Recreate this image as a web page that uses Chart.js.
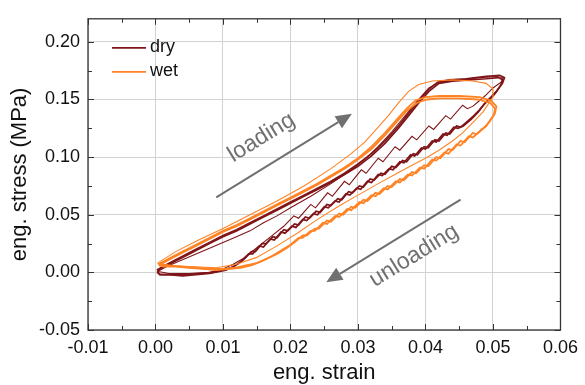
<!DOCTYPE html>
<html>
<head>
<meta charset="utf-8">
<script src="https://cdn.jsdelivr.net/npm/chart.js@4.4.0/dist/chart.umd.min.js"></script>
<style>
  html, body { margin: 0; padding: 0; background: #fff; }
  #wrap { width: 585px; height: 385px; }
</style>
</head>
<body>
<div id="wrap"><canvas id="loopChart" width="585" height="385"></canvas></div>
<script>
// tick labels
const strainTicks = [-0.01, 0.0, 0.01, 0.02, 0.03, 0.04, 0.05, 0.06];
const stressTicks = [-0.05, 0.0, 0.05, 0.1, 0.15, 0.2];

// dry cycles [strain, stress]
const dryLoop1 = [
  [0.0002,0.001],[0.002,0.006],[0.004,0.011],[0.006,0.016],[0.008,0.021],[0.010,0.026],
  [0.012,0.031],[0.014,0.036],[0.016,0.043],[0.018,0.049],[0.020,0.056],[0.023,0.066],
  [0.026,0.077],[0.029,0.089],[0.031,0.098],[0.033,0.109],[0.035,0.122],[0.037,0.136],
  [0.039,0.150],[0.0405,0.160],[0.042,0.165],[0.045,0.167],[0.048,0.169],[0.0505,0.170],
  [0.0515,0.169],[0.0512,0.165],[0.0500,0.160],[0.0488,0.153],[0.0478,0.148],[0.0470,0.144],
  [0.0462,0.142],[0.0455,0.145],[0.0437,0.133],[0.0430,0.136],[0.0412,0.124],[0.0405,0.127],
  [0.0387,0.115],[0.0380,0.118],[0.0362,0.106],[0.0355,0.109],[0.0337,0.096],[0.0330,0.099],
  [0.0312,0.086],[0.0305,0.089],[0.0287,0.076],[0.0280,0.079],[0.0262,0.066],[0.0255,0.069],
  [0.0237,0.056],[0.0230,0.059],[0.0212,0.047],[0.0205,0.049],[0.0190,0.040],[0.0175,0.033],
  [0.0160,0.026],[0.0145,0.019],[0.0130,0.012],[0.0115,0.007],[0.0100,0.003],[0.0080,0.000],
  [0.0050,-0.001],[0.0020,-0.001],[0.0002,0.001]
];
const dryLoop2 = [
  [0.0002,0.002],[0.002,0.008],[0.004,0.014],[0.006,0.020],[0.008,0.026],[0.010,0.032],
  [0.012,0.037],[0.014,0.043],[0.016,0.049],[0.018,0.055],[0.020,0.061],[0.022,0.067],
  [0.024,0.073],[0.026,0.079],[0.028,0.086],[0.030,0.094],[0.032,0.103],[0.034,0.114],
  [0.036,0.127],[0.0375,0.138],[0.039,0.149],[0.0405,0.159],[0.0418,0.165],[0.0435,0.167],
  [0.046,0.168],[0.049,0.170],[0.0510,0.171],[0.0517,0.169],[0.0514,0.164],[0.0505,0.157],
  [0.0497,0.152],[0.0490,0.148],[0.0480,0.141],[0.0470,0.135],[0.0460,0.130],[0.0452,0.126],
  [0.0446,0.127],[0.0436,0.120],[0.0430,0.121],[0.0420,0.114],[0.0414,0.115],[0.0404,0.108],
  [0.0398,0.109],[0.0388,0.102],[0.0382,0.103],[0.0372,0.096],[0.0366,0.097],[0.0356,0.091],
  [0.0350,0.092],[0.0340,0.085],[0.0334,0.086],[0.0324,0.080],[0.0318,0.081],[0.0308,0.074],
  [0.0302,0.075],[0.0292,0.069],[0.0286,0.070],[0.0276,0.063],[0.0270,0.064],[0.0260,0.058],
  [0.0254,0.059],[0.0244,0.052],[0.0238,0.053],[0.0228,0.047],[0.0222,0.048],[0.0212,0.041],
  [0.0206,0.042],[0.0196,0.036],[0.0190,0.037],[0.0180,0.030],[0.0174,0.031],[0.0164,0.025],
  [0.0158,0.025],[0.0148,0.018],[0.0142,0.018],[0.0132,0.012],[0.0124,0.008],[0.0112,0.004],
  [0.0100,0.002],[0.0085,0.000],[0.0065,-0.001],[0.0045,-0.002],[0.0025,-0.002],[0.0008,-0.002],
  [0.0002,0.000]
];
const dryLoop3 = [
  [0.0003,0.001],[0.002,0.007],[0.004,0.013],[0.006,0.019],[0.008,0.025],[0.010,0.031],
  [0.012,0.036],[0.014,0.042],[0.016,0.048],[0.018,0.054],[0.020,0.060],[0.022,0.066],
  [0.024,0.072],[0.026,0.078],[0.028,0.085],[0.030,0.092],[0.032,0.101],[0.034,0.112],
  [0.036,0.125],[0.0375,0.136],[0.039,0.147],[0.0405,0.157],[0.0420,0.164],[0.0440,0.166],
  [0.0465,0.167],[0.0490,0.168],[0.0508,0.169],[0.0515,0.167],[0.0511,0.162],[0.0503,0.155],
  [0.0495,0.150],[0.0487,0.146],[0.0478,0.139],[0.0468,0.133],[0.0456,0.127],[0.0448,0.125],
  [0.0442,0.126],[0.0432,0.119],[0.0426,0.120],[0.0416,0.113],[0.0410,0.114],[0.0400,0.107],
  [0.0394,0.108],[0.0384,0.101],[0.0378,0.102],[0.0368,0.095],[0.0362,0.096],[0.0352,0.089],
  [0.0346,0.090],[0.0336,0.084],[0.0330,0.085],[0.0320,0.078],[0.0314,0.079],[0.0304,0.072],
  [0.0298,0.073],[0.0288,0.067],[0.0282,0.068],[0.0272,0.061],[0.0266,0.062],[0.0256,0.056],
  [0.0250,0.057],[0.0240,0.050],[0.0234,0.051],[0.0224,0.045],[0.0218,0.046],[0.0208,0.039],
  [0.0202,0.040],[0.0192,0.034],[0.0186,0.035],[0.0176,0.028],[0.0170,0.029],[0.0160,0.022],
  [0.0154,0.023],[0.0144,0.016],[0.0138,0.016],[0.0128,0.010],[0.0116,0.005],[0.0104,0.002],
  [0.0080,-0.001],[0.0060,-0.002],[0.0040,-0.003],[0.0020,-0.002],[0.0006,-0.002],[0.0003,0.001]
];

// wet cycles [strain, stress]
const wetLoop1 = [
  [0.0003,0.008],[0.003,0.018],[0.006,0.027],[0.010,0.038],[0.014,0.050],[0.018,0.062],
  [0.022,0.075],[0.026,0.090],[0.029,0.103],[0.031,0.113],[0.033,0.126],[0.0345,0.136],
  [0.036,0.147],[0.0375,0.157],[0.039,0.163],[0.041,0.166],[0.044,0.167],[0.047,0.166],
  [0.049,0.164],[0.0500,0.159],[0.0500,0.152],[0.0493,0.146],[0.0485,0.139],[0.0470,0.130],
  [0.0455,0.121],[0.0440,0.114],[0.0420,0.106],[0.0400,0.099],[0.0380,0.093],[0.0358,0.086],
  [0.0330,0.077],[0.0300,0.067],[0.0270,0.057],[0.0240,0.046],[0.0210,0.034],[0.0180,0.023],
  [0.0150,0.013],[0.0120,0.007],[0.0090,0.004],[0.0050,0.005],[0.0020,0.006],[0.0003,0.008]
];
const wetLoop2 = [
  [0.0004,0.007],[0.002,0.012],[0.004,0.018],[0.006,0.024],[0.008,0.030],[0.010,0.036],
  [0.012,0.041],[0.014,0.047],[0.016,0.053],[0.018,0.059],[0.020,0.065],[0.022,0.071],
  [0.024,0.077],[0.026,0.084],[0.028,0.091],[0.030,0.099],[0.032,0.109],[0.034,0.121],
  [0.0358,0.133],[0.0372,0.142],[0.0385,0.149],[0.0400,0.152],[0.0420,0.153],[0.0450,0.153],
  [0.0480,0.152],[0.0497,0.149],[0.0505,0.144],[0.0503,0.138],[0.0497,0.133],[0.0490,0.127],
  [0.0483,0.124],[0.0476,0.120],[0.0470,0.121],[0.0458,0.113],[0.0452,0.114],[0.0440,0.106],
  [0.0434,0.107],[0.0422,0.099],[0.0416,0.100],[0.0404,0.092],[0.0398,0.093],[0.0386,0.086],
  [0.0380,0.087],[0.0368,0.080],[0.0362,0.081],[0.0350,0.074],[0.0344,0.075],[0.0332,0.068],
  [0.0326,0.069],[0.0314,0.062],[0.0308,0.063],[0.0296,0.056],[0.0290,0.057],[0.0278,0.050],
  [0.0272,0.051],[0.0260,0.044],[0.0254,0.045],[0.0242,0.038],[0.0236,0.038],[0.0224,0.032],
  [0.0218,0.032],[0.0206,0.026],[0.0194,0.021],[0.0180,0.016],[0.0166,0.012],[0.0150,0.008],
  [0.0134,0.006],[0.0118,0.004],[0.0100,0.003],[0.0080,0.003],[0.0060,0.004],[0.0040,0.005],
  [0.0020,0.006],[0.0004,0.007]
];
const wetLoop3 = [
  [0.0005,0.006],[0.002,0.011],[0.004,0.017],[0.006,0.023],[0.008,0.029],[0.010,0.035],
  [0.012,0.040],[0.014,0.046],[0.016,0.052],[0.018,0.058],[0.020,0.064],[0.022,0.070],
  [0.024,0.076],[0.026,0.083],[0.028,0.090],[0.030,0.098],[0.032,0.107],[0.034,0.119],
  [0.0358,0.131],[0.0372,0.140],[0.0387,0.147],[0.0402,0.150],[0.0420,0.151],[0.0450,0.151],
  [0.0478,0.150],[0.0496,0.147],[0.0503,0.142],[0.0501,0.136],[0.0495,0.131],[0.0488,0.126],
  [0.0480,0.122],[0.0470,0.117],[0.0464,0.118],[0.0452,0.110],[0.0446,0.111],[0.0434,0.103],
  [0.0428,0.104],[0.0416,0.097],[0.0410,0.098],[0.0398,0.090],[0.0392,0.091],[0.0380,0.084],
  [0.0374,0.085],[0.0362,0.078],[0.0356,0.079],[0.0344,0.072],[0.0338,0.073],[0.0326,0.066],
  [0.0320,0.067],[0.0308,0.060],[0.0302,0.061],[0.0290,0.054],[0.0284,0.055],[0.0272,0.048],
  [0.0266,0.049],[0.0254,0.042],[0.0248,0.043],[0.0236,0.036],[0.0230,0.036],[0.0218,0.030],
  [0.0212,0.030],[0.0200,0.024],[0.0186,0.019],[0.0172,0.014],[0.0158,0.010],[0.0142,0.006],
  [0.0126,0.004],[0.0110,0.003],[0.0090,0.002],[0.0070,0.003],[0.0050,0.004],[0.0030,0.005],
  [0.0012,0.005],[0.0005,0.006]
];

const dryLoops = [dryLoop1, dryLoop2, dryLoop3];
const wetLoops = [wetLoop1, wetLoop2, wetLoop3];

const DRY = "#7f1518";
const WET = "#ff8324";
const FONT = "'Liberation Sans', Arial, sans-serif";

function toPoints(loop) {
  return loop.map(([x, y]) => ({ x, y }));
}

const datasets = [];
dryLoops.forEach((loop, i) => {
  datasets.push({
    label: "dry",
    data: toPoints(loop),
    borderColor: DRY,
    borderWidth: i === 0 ? 1.1 : 1.7,
    showLine: true,
    pointRadius: 0,
    tension: 0,
    order: 2,
  });
});
wetLoops.forEach((loop, i) => {
  datasets.push({
    label: "wet",
    data: toPoints(loop),
    borderColor: WET,
    borderWidth: i === 0 ? 1.1 : 1.8,
    showLine: true,
    pointRadius: 0,
    tension: 0,
    order: 1,
  });
});

// box, inward ticks, legend and the arrows
const decorPlugin = {
  id: "decor",
  afterDraw(chart) {
    const { ctx, chartArea: a, scales } = chart;
    const sx = scales.x, sy = scales.y;
    ctx.save();

    // ticks
    ctx.strokeStyle = "#333";
    ctx.lineWidth = 1;
    ctx.beginPath();
    const xMinor = strainTicks.slice(1).map((v, i) => (v + strainTicks[i]) / 2);
    const yMinor = stressTicks.slice(1).map((v, i) => (v + stressTicks[i]) / 2);
    yMinor.push(0.225);
    strainTicks.concat(xMinor).forEach((v) => {
      const len = strainTicks.includes(v) ? 6 : 4;
      const px = Math.round(sx.getPixelForValue(v)) + 0.5;
      ctx.moveTo(px, a.bottom); ctx.lineTo(px, a.bottom - len);
      ctx.moveTo(px, a.top); ctx.lineTo(px, a.top + len);
    });
    stressTicks.concat(yMinor).forEach((v) => {
      if (v > sy.max) return;
      const len = stressTicks.includes(v) ? 6 : 4;
      const py = Math.round(sy.getPixelForValue(v)) + 0.5;
      ctx.moveTo(a.left, py); ctx.lineTo(a.left + len, py);
      ctx.moveTo(a.right, py); ctx.lineTo(a.right - len, py);
    });
    ctx.stroke();

    // frame
    ctx.lineWidth = 1.3;
    ctx.strokeRect(a.left, a.top, a.right - a.left, a.bottom - a.top);

    // legend
    const items = [["dry", DRY], ["wet", WET]];
    ctx.font = "18px " + FONT;
    ctx.textBaseline = "middle";
    items.forEach(([name, col], i) => {
      const ly = a.top + 29 + i * 24;
      ctx.strokeStyle = col;
      ctx.lineWidth = 1.8;
      ctx.beginPath();
      ctx.moveTo(a.left + 24, ly); ctx.lineTo(a.left + 58, ly);
      ctx.stroke();
      ctx.fillStyle = "#111";
      ctx.fillText(name, a.left + 62, ly - 1);
    });

    // arrows with labels
    const notes = [
      { from: [0.0090, 0.065], to: [0.0291, 0.1376], text: "loading", at: [0.0157, 0.117] },
      { from: [0.0452, 0.0632], to: [0.0253, -0.0085], text: "unloading", at: [0.0383, 0.0145] },
    ];
    ctx.strokeStyle = "#707070";
    ctx.fillStyle = "#707070";
    notes.forEach((n) => {
      const x0 = sx.getPixelForValue(n.from[0]), y0 = sy.getPixelForValue(n.from[1]);
      const x1 = sx.getPixelForValue(n.to[0]), y1 = sy.getPixelForValue(n.to[1]);
      const ang = Math.atan2(y1 - y0, x1 - x0);
      const hl = 16, hw = 7;
      const bx = x1 - hl * Math.cos(ang), by = y1 - hl * Math.sin(ang);
      ctx.lineWidth = 2;
      ctx.beginPath();
      ctx.moveTo(x0, y0); ctx.lineTo(bx, by);
      ctx.stroke();
      ctx.beginPath();
      ctx.moveTo(x1, y1);
      ctx.lineTo(bx + hw * Math.sin(ang), by - hw * Math.cos(ang));
      ctx.lineTo(bx - hw * Math.sin(ang), by + hw * Math.cos(ang));
      ctx.closePath();
      ctx.fill();

      const tx = sx.getPixelForValue(n.at[0]), ty = sy.getPixelForValue(n.at[1]);
      let ta = ang;
      if (ta > Math.PI / 2 || ta < -Math.PI / 2) ta += Math.PI;
      ctx.save();
      ctx.translate(tx, ty);
      ctx.rotate(ta);
      ctx.font = "23px " + FONT;
      ctx.textAlign = "center";
      ctx.textBaseline = "middle";
      ctx.fillText(n.text, 0, 0);
      ctx.restore();
    });
    ctx.restore();
  },
};

const canvas = document.getElementById("loopChart");
new Chart(canvas, {
  type: "scatter",
  data: { datasets },
  options: {
    responsive: false,
    animation: false,
    devicePixelRatio: 1,
    layout: { padding: { top: 14, right: 20, left: 0, bottom: 0 } },
    plugins: { legend: { display: false }, tooltip: { enabled: false } },
    scales: {
      x: {
        type: "linear",
        min: -0.01,
        max: 0.06,
        afterBuildTicks: (s) => { s.ticks = strainTicks.map((v) => ({ value: v })); },
        afterFit: (s) => { s.height = 55; },
        grid: { color: "#d2d2d2", lineWidth: 1, drawTicks: false },
        border: { display: false },
        ticks: {
          padding: 7,
          color: "#111",
          font: { size: 18, family: FONT },
          maxRotation: 0,
          callback: (v) => Number(v).toFixed(2),
        },
        title: {
          display: true,
          text: "eng. strain",
          color: "#111",
          font: { size: 22, family: FONT, lineHeight: 1 },
          padding: { top: 0, bottom: 1 },
        },
      },
      y: {
        type: "linear",
        min: -0.05,
        max: 0.22,
        afterBuildTicks: (s) => { s.ticks = stressTicks.map((v) => ({ value: v })); },
        afterFit: (s) => { s.width = 88; },
        grid: { color: "#d2d2d2", lineWidth: 1, drawTicks: false },
        border: { display: false },
        ticks: {
          padding: 8,
          color: "#111",
          font: { size: 18, family: FONT },
          callback: (v) => Number(v).toFixed(2),
        },
        title: {
          display: true,
          text: "eng. stress (MPa)",
          color: "#111",
          font: { size: 22, family: FONT, lineHeight: 1 },
          padding: { top: 9, bottom: 0 },
        },
      },
    },
  },
  plugins: [decorPlugin],
});
</script>
</body>
</html>
